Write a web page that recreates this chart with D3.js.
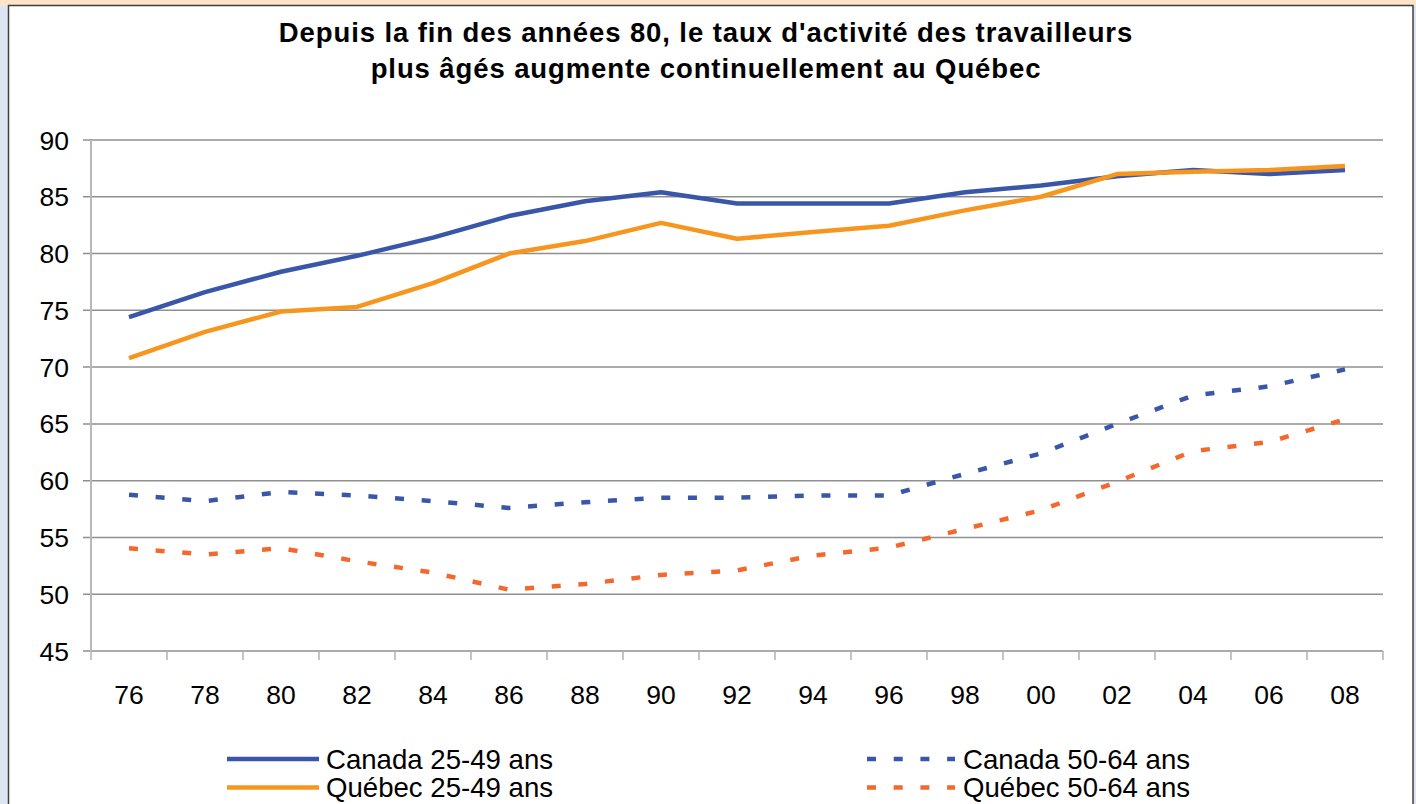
<!DOCTYPE html>
<html>
<head>
<meta charset="utf-8">
<script src="https://cdn.jsdelivr.net/npm/d3@7"></script>
<style>
  html, body { margin: 0; padding: 0; background: #fff; }
  svg { display: block; font-family: "Liberation Sans", Arial, sans-serif; }
</style>
</head>
<body>
<svg id="chart" width="1416" height="804"></svg>
<script>
const years = ["76","78","80","82","84","86","88","90","92","94","96","98","00","02","04","06","08"];
const canada2549 = [74.4,76.6,78.4,79.8,81.4,83.3,84.6,85.4,84.4,84.4,84.4,85.4,86.0,86.8,87.35,87.0,87.35];
const quebec2549 = [70.8,73.1,74.9,75.3,77.4,80.0,81.1,82.7,81.3,81.9,82.45,83.8,85.0,87.0,87.2,87.35,87.7];
const canada5064 = [58.75,58.2,59.0,58.7,58.2,57.6,58.1,58.5,58.5,58.7,58.7,60.6,62.4,65.0,67.5,68.3,69.8];
const quebec5064 = [54.05,53.5,54.05,52.9,51.9,50.4,50.9,51.7,52.1,53.4,54.1,55.75,57.4,59.9,62.6,63.4,65.4];
const yTicks = [45,50,55,60,65,70,75,80,85,90];
const titleLines = ["Depuis la fin des années 80, le taux d'activité des travailleurs",
                    "plus âgés augmente continuellement au Québec"];
const seriesNames = ["Canada 25-49 ans","Québec 25-49 ans","Canada 50-64 ans","Québec 50-64 ans"];

(function () {
const svg = d3.select("#chart");
const W = 1416, H = 804;

// frame
svg.append("rect").attr("x",0).attr("y",0).attr("width",W).attr("height",H).attr("fill","#dce6f2");
svg.append("rect").attr("x",0).attr("y",0).attr("width",W).attr("height",6).attr("fill","#fde4c8");
svg.append("rect").attr("x",8.5).attr("y",5.5).attr("width",1404.5).attr("height",H+10)
  .attr("fill","#ffffff").attr("stroke","#3f3f3f").attr("stroke-width",1.5);

const pLeft = 91, pRight = 1383, pTop = 140, pBottom = 651;
const x = d3.scaleBand().domain(years).range([pLeft, pRight]);
const y = d3.scaleLinear().domain([45, 90]).range([pBottom, pTop]);

// gridlines
svg.append("g").selectAll("line").data(yTicks).join("line")
  .attr("x1", pLeft - 8).attr("x2", pRight)
  .attr("y1", d => y(d)).attr("y2", d => y(d))
  .attr("stroke", "#8f8f8f").attr("stroke-width", 1.5);

// y axis line
svg.append("line").attr("x1", pLeft).attr("x2", pLeft).attr("y1", pTop).attr("y2", pBottom + 1)
  .attr("stroke", "#b8b8b8").attr("stroke-width", 2);

// x tick marks at band boundaries
const bounds = years.map(d => x(d)).concat([pRight]);
svg.append("g").selectAll("line").data(bounds).join("line")
  .attr("x1", d => d).attr("x2", d => d).attr("y1", pBottom).attr("y2", pBottom + 9)
  .attr("stroke", "#b0b0b0").attr("stroke-width", 1.5);

// y tick labels
svg.append("g").selectAll("text").data(yTicks).join("text")
  .attr("x", 69).attr("y", d => y(d) + 9.5)
  .attr("text-anchor", "end").attr("font-size", 26.5).attr("fill", "#000")
  .text(d => d);

// x tick labels
svg.append("g").selectAll("text").data(years).join("text")
  .attr("x", d => x(d) + x.bandwidth() / 2).attr("y", 704)
  .attr("text-anchor", "middle").attr("font-size", 26.5).attr("fill", "#000")
  .text(d => d);

// title
svg.append("g").selectAll("text").data(titleLines).join("text")
  .attr("x", 706).attr("y", (d, i) => 42 + i * 36)
  .attr("text-anchor", "middle").attr("font-size", 27.5).attr("font-weight", "bold")
  .attr("letter-spacing", 0.9)
  .attr("fill", "#000").text(d => d);

const line = d3.line().x((d, i) => x(years[i]) + x.bandwidth() / 2).y(d => y(d));

const series = [
  {name: seriesNames[0], values: canada2549, color: "#3a56a8", dash: null},
  {name: seriesNames[1], values: quebec2549, color: "#f7961f", dash: null},
  {name: seriesNames[2], values: canada5064, color: "#3a56a8", dash: "9,17.7"},
  {name: seriesNames[3], values: quebec5064, color: "#f3692d", dash: "9,17.7"}
];

const order = [2, 3, 0, 1];
order.forEach(k => {
  const s = series[k];
  svg.append("path").datum(s.values)
    .attr("d", line).attr("fill", "none")
    .attr("stroke", s.color).attr("stroke-width", 4.5)
    .attr("stroke-linejoin", "round")
    .attr("stroke-dasharray", s.dash);
});

// legend
const legendPos = [
  {lx1: 227, lx2: 319, tx: 326, y: 759},
  {lx1: 227, lx2: 319, tx: 326, y: 787.5},
  {lx1: 867, lx2: 955, tx: 963, y: 759},
  {lx1: 867, lx2: 955, tx: 963, y: 787.5}
];
series.forEach((s, i) => {
  const p = legendPos[i];
  svg.append("line").attr("x1", p.lx1).attr("x2", p.lx2).attr("y1", p.y).attr("y2", p.y)
    .attr("stroke", s.color).attr("stroke-width", 4.5).attr("stroke-dasharray", s.dash);
  svg.append("text").attr("x", p.tx).attr("y", p.y + 9.5)
    .attr("font-size", 27.6).attr("fill", "#000").text(s.name);
});
})();
</script>
</body>
</html>
